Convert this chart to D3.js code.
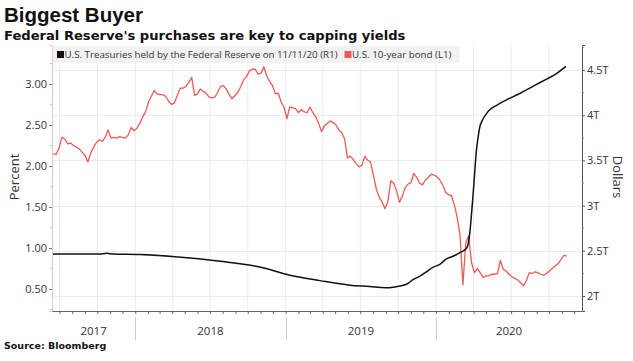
<!DOCTYPE html>
<html>
<head>
<meta charset="utf-8">
<script src="https://cdn.jsdelivr.net/npm/d3@7"></script>
<style>
  html, body { margin: 0; padding: 0; background: #fff; }
  svg { display: block; }
</style>
</head>
<body>
<div id="area"></div>
<script>

// 10-year yield, weekly closes (percent), first week ending 2017-06-16
var yieldStart = "2017-06-16";
var yieldValues = [
	2.15, 2.14, 2.22, 2.35, 2.33, 2.27, 2.28, 2.25, 2.23, 2.21,
	2.17, 2.13, 2.05, 2.16, 2.23, 2.29, 2.32, 2.30, 2.35, 2.44,
	2.34, 2.35, 2.34, 2.36, 2.35, 2.34, 2.38, 2.47, 2.43, 2.46,
	2.52, 2.60, 2.66, 2.78, 2.85, 2.92, 2.88, 2.87, 2.87, 2.85,
	2.79, 2.75, 2.77, 2.86, 2.95, 2.95, 2.97, 3.02, 3.08, 2.86,
	2.88, 2.94, 2.91, 2.89, 2.84, 2.83, 2.84, 2.90, 2.97, 2.98,
	2.94, 2.87, 2.82, 2.86, 2.90, 2.97, 3.05, 3.09, 3.16, 3.18,
	3.18, 3.12, 3.13, 3.21, 3.10, 3.03, 2.98, 2.88, 2.89, 2.78,
	2.72, 2.58, 2.72, 2.71, 2.70, 2.65, 2.69, 2.66, 2.65, 2.72,
	2.65, 2.60, 2.52, 2.42, 2.49, 2.52, 2.55, 2.53, 2.50, 2.44,
	2.41, 2.33, 2.10, 2.12, 2.08, 2.03, 1.99, 2.01, 2.12, 2.07,
	2.05, 1.88, 1.72, 1.62, 1.56, 1.48, 1.57, 1.82, 1.79, 1.70,
	1.56, 1.63, 1.74, 1.78, 1.80, 1.91, 1.86, 1.79, 1.77, 1.83,
	1.86, 1.90, 1.89, 1.87, 1.83, 1.77, 1.68, 1.65, 1.64, 1.53,
	1.38, 1.16, 0.55, 1.06, 1.15, 0.82, 0.70, 0.75, 0.70, 0.64,
	0.66, 0.66, 0.68, 0.68, 0.69, 0.85, 0.74, 0.72, 0.68, 0.65,
	0.63, 0.61, 0.58, 0.54, 0.60, 0.70, 0.69, 0.71, 0.70, 0.68,
	0.67, 0.69, 0.72, 0.75, 0.78, 0.81, 0.86, 0.91, 0.90
];

// Treasuries held by the Fed (trillions of dollars)
var fedDates = [
	"2017-06-13", "2017-10-07", "2017-10-24", "2017-11-08", "2018-01-12",
	"2018-05-14", "2018-08-19", "2018-10-30", "2019-01-11", "2019-03-25",
	"2019-06-06", "2019-07-24", "2019-08-30", "2019-09-23", "2019-10-05",
	"2019-10-21", "2019-11-06", "2019-11-23", "2019-12-09", "2019-12-25",
	"2020-01-10", "2020-01-26", "2020-02-11", "2020-02-28", "2020-03-15",
	"2020-03-19", "2020-03-23", "2020-03-27", "2020-03-31", "2020-04-04",
	"2020-04-08", "2020-04-12", "2020-04-16", "2020-04-23", "2020-05-01",
	"2020-05-10", "2020-05-27", "2020-06-20", "2020-07-22", "2020-08-23",
	"2020-09-25", "2020-10-19", "2020-11-11"
];
var fedValues = [
	2.465, 2.465, 2.472, 2.465, 2.46,
	2.42, 2.37, 2.32, 2.23, 2.17,
	2.12, 2.105, 2.09, 2.10, 2.11,
	2.13, 2.18, 2.22, 2.27, 2.32,
	2.35, 2.41, 2.44, 2.48, 2.53,
	2.58, 2.71, 2.91, 3.14, 3.39,
	3.62, 3.76, 3.87, 3.95, 4.01,
	4.06, 4.11, 4.17, 4.24, 4.32,
	4.40, 4.46, 4.54
];

var leftTicks = [0.5, 1.0, 1.5, 2.0, 2.5, 3.0];
var rightTicks = [2, 2.5, 3, 3.5, 4, 4.5];
var years = [2017, 2018, 2019, 2020];

var legendLabels = ["U.S. Treasuries held by the Federal Reserve on 11/11/20 (R1)", "U.S. 10-year bond (L1)"];

var width = 633, height = 361;
var plot = { left: 52, right: 582, top: 45, bottom: 311 };
var redColor = "#ee5a57";
var gridColor = "#ebebeb";
var font = "'Open Sans', sans-serif";

var parse = d3.timeParse("%Y-%m-%d");

var svg = d3.select("#area").append("svg")
	.attr("width", width).attr("height", height);

var x = d3.scaleTime()
	.domain([new Date(2017, 5, 13), new Date(2020, 11, 20)])
	.range([plot.left, plot.right]);
var yL = d3.scaleLinear().domain([0.232, 3.476]).range([plot.bottom, plot.top]);
var yR = d3.scaleLinear().domain([1.834, 4.777]).range([plot.bottom, plot.top]);

// build series
var start = parse(yieldStart);
var yieldData = yieldValues.map(function(v, i){
	return { date: d3.timeWeek.offset(start, i), value: v };
});
var fedData = fedDates.map(function(d, i){
	return { date: parse(d), value: fedValues[i] };
});

//Gridlines
var grid = svg.append("g");
grid.selectAll(".vg")
	.data(d3.timeMonth.every(3).range(x.domain()[0], x.domain()[1]))
	.enter().append("line")
	.attr("x1", function(d){ return x(d); }).attr("x2", function(d){ return x(d); })
	.attr("y1", plot.top).attr("y2", plot.bottom)
	.attr("stroke", gridColor).attr("stroke-width", 1);
grid.selectAll(".hg")
	.data(rightTicks)
	.enter().append("line")
	.attr("x1", plot.left).attr("x2", plot.right)
	.attr("y1", function(d){ return Math.round(yR(d)) + 0.5; })
	.attr("y2", function(d){ return Math.round(yR(d)) + 0.5; })
	.attr("stroke", gridColor).attr("stroke-width", 1);

//Legend
var legend = svg.append("g");
var legendBox = legend.append("rect")
	.attr("x", plot.left + 1).attr("y", 46).attr("height", 17)
	.attr("fill", "#f2f2f2");
var lg1 = legend.append("g").attr("transform", "translate(57,58)");
lg1.append("rect").attr("x", 0).attr("y", -7).attr("width", 7).attr("height", 7).attr("fill", "#111");
var t1 = lg1.append("text").attr("x", 7.5).attr("y", 0)
	.style("font-family", font).style("font-size", "9.75px").attr("fill", "#333")
	.text(legendLabels[0]);
var w1 = t1.node().getComputedTextLength();
var x2 = 57 + 7.5 + w1 + 7;
var lg2 = legend.append("g").attr("transform", "translate(" + x2 + ",58)");
lg2.append("rect").attr("x", 0).attr("y", -7).attr("width", 7).attr("height", 7).attr("fill", redColor);
var t2 = lg2.append("text").attr("x", 7.5).attr("y", 0)
	.style("font-family", font).style("font-size", "9.75px").attr("fill", "#333")
	.text(legendLabels[1]);
legendBox.attr("width", x2 + 7.5 + t2.node().getComputedTextLength() + 8 - (plot.left + 1));

//Lines
svg.append("path")
	.datum(yieldData)
	.attr("fill", "none").attr("stroke", redColor).attr("stroke-width", 1.3)
	.attr("stroke-linejoin", "round")
	.attr("d", d3.line().x(function(d){ return x(d.date); }).y(function(d){ return yL(d.value); }));

svg.append("path")
	.datum(fedData)
	.attr("fill", "none").attr("stroke", "#111").attr("stroke-width", 1.5)
	.attr("stroke-linejoin", "round")
	.attr("d", d3.line().curve(d3.curveMonotoneX)
		.x(function(d){ return x(d.date); }).y(function(d){ return yR(d.value); }));

//Left axis
var leftAxis = svg.append("g")
	.attr("transform", "translate(" + plot.left + ",0)")
	.call(d3.axisLeft(yL).tickValues(leftTicks).tickFormat(d3.format(".2f")).tickSize(3).tickPadding(2));
leftAxis.select(".domain").attr("stroke", "#f4c4c2");
leftAxis.selectAll(".tick line").attr("stroke", "#777");
leftAxis.selectAll("text").style("font-family", font).style("font-size", "11px").attr("fill", "#333");
svg.append("g").selectAll("line")
	.data(d3.range(0.25, 3.5, 0.25).filter(function(d){ return leftTicks.indexOf(d) < 0; }))
	.enter().append("line")
	.attr("x1", plot.left - 2).attr("x2", plot.left)
	.attr("y1", function(d){ return yL(d); }).attr("y2", function(d){ return yL(d); })
	.attr("stroke", "#bbb");

//Right axis
var rightAxis = svg.append("g")
	.attr("transform", "translate(" + plot.right + ",0)")
	.call(d3.axisRight(yR).tickValues(rightTicks).tickFormat(function(d){ return d + "T"; }).tickSize(3).tickPadding(2));
rightAxis.select(".domain").attr("stroke", "#555");
rightAxis.selectAll(".tick line").attr("stroke", "#555");
rightAxis.selectAll("text").style("font-family", font).style("font-size", "11px").attr("fill", "#333");
svg.append("g").selectAll("line")
	.data([2.25, 2.75, 3.25, 3.75, 4.25, 4.75])
	.enter().append("line")
	.attr("x1", plot.right).attr("x2", plot.right + 2)
	.attr("y1", function(d){ return yR(d); }).attr("y2", function(d){ return yR(d); })
	.attr("stroke", "#888");

//Bottom axis
var bottomAxis = svg.append("g")
	.attr("transform", "translate(0," + plot.bottom + ")")
	.call(d3.axisBottom(x).ticks(d3.timeMonth.every(1)).tickFormat("").tickSize(3).tickSizeOuter(0));
bottomAxis.select(".domain").attr("stroke", "#666");
bottomAxis.selectAll(".tick line").attr("stroke", "#666");

var yearG = svg.append("g");
years.forEach(function(yr){
	var a = Math.max(x(new Date(yr, 0, 1)), plot.left);
	var b = Math.min(x(new Date(yr + 1, 0, 1)), plot.right);
	yearG.append("text")
		.attr("x", (a + b) / 2).attr("y", 335)
		.attr("text-anchor", "middle")
		.style("font-family", font).style("font-size", "11.5px").attr("fill", "#333")
		.text(yr);
	if (yr > years[0]) {
		var xs = Math.round(x(new Date(yr, 0, 1))) + 0.5;
		yearG.append("line")
			.attr("x1", xs).attr("x2", xs).attr("y1", 317).attr("y2", 340)
			.attr("stroke", "#ccc");
	}
});

//Axis titles
svg.append("text")
	.attr("transform", "translate(19,177) rotate(-90)")
	.attr("text-anchor", "middle")
	.style("font-family", font).style("font-size", "13px").attr("fill", "#333")
	.text("Percent");
svg.append("text")
	.attr("transform", "translate(613,177) rotate(90)")
	.attr("text-anchor", "middle")
	.style("font-family", font).style("font-size", "13px").attr("fill", "#333")
	.text("Dollars");

//Titles
svg.append("text")
	.attr("x", 4).attr("y", 22)
	.style("font-family", "'Liberation Sans', Arial, sans-serif").style("font-weight", "bold").style("font-size", "20.5px")
	.attr("fill", "#111")
	.text("Biggest Buyer");
svg.append("text")
	.attr("x", 4).attr("y", 40)
	.style("font-family", "'DejaVu Sans', sans-serif").style("font-weight", "bold").style("font-size", "13.1px")
	.attr("fill", "#111")
	.text("Federal Reserve's purchases are key to capping yields");
svg.append("text")
	.attr("x", 4).attr("y", 349)
	.style("font-family", "'DejaVu Sans', sans-serif").style("font-weight", "bold").style("font-size", "9.5px")
	.attr("fill", "#111")
	.text("Source: Bloomberg");

</script>
</body>
</html>
